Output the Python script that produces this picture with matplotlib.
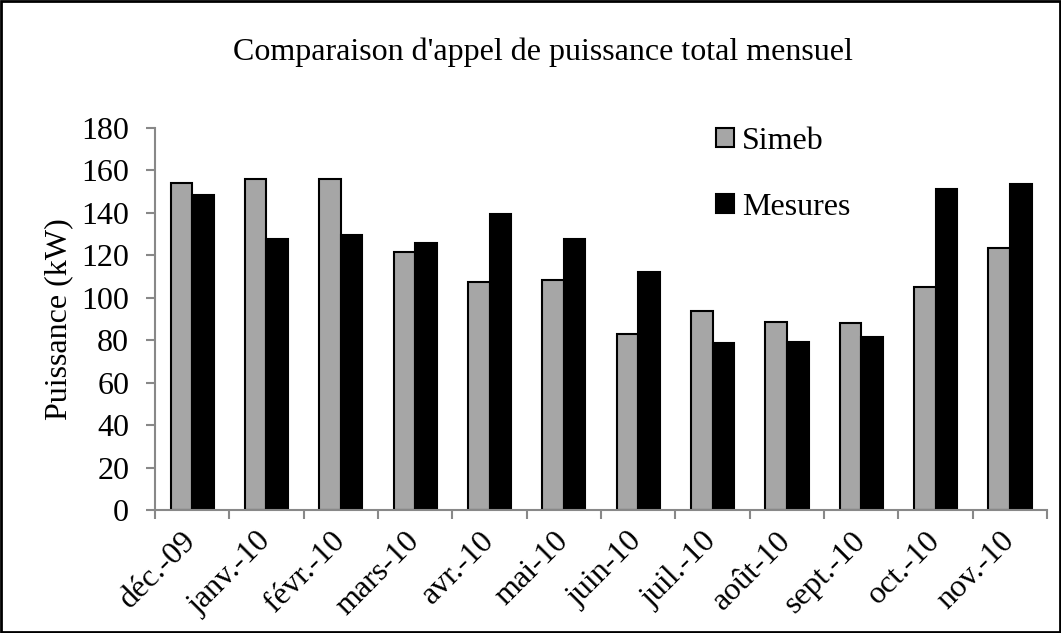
import numpy as np
import matplotlib
matplotlib.use("Agg")
import matplotlib.pyplot as plt
from matplotlib.patches import Rectangle

plt.rcParams['font.family'] = ['Liberation Serif', 'DejaVu Serif']

months = ['déc.-09', 'janv.-10', 'févr.-10', 'mars-10', 'avr.-10', 'mai-10',
          'juin-10', 'juil.-10', 'août-10', 'sept.-10', 'oct.-10', 'nov.-10']
simeb = [154.2, 155.8, 156.1, 121.7, 107.4, 108.4, 82.9, 93.9, 88.6, 88.3, 105.2, 123.6]
mesures = [148.4, 127.5, 129.6, 125.7, 139.5, 127.9, 112.3, 78.7, 79.0, 81.4, 151.4, 153.8]
yticks = list(range(0, 181, 20))

fs = 23

fig = plt.figure(figsize=(10.61, 6.33), dpi=100)
ax = fig.add_axes([0.146, 0.194, 0.841, 0.604])

x = np.arange(len(months))
w = 0.29
ax.bar(x - w / 2, simeb, w, color='#a6a6a6', edgecolor='black', linewidth=1.5, label='Simeb')
ax.bar(x + w / 2, mesures, w, color='black', edgecolor='black', linewidth=1.5, label='Mesures')

ax.set_xlim(-0.5, len(months) - 0.5)
ax.set_ylim(0, 180)
ax.set_yticks(yticks)
ax.set_xticks(x)
ax.set_xticklabels(months, rotation=45, ha='right', va='center', rotation_mode='anchor')
ax.set_xticks(np.arange(-0.5, len(months)), minor=True)
ax.tick_params(axis='x', which='major', length=0, pad=19, labelsize=fs)
ax.tick_params(axis='x', which='minor', length=6.5, width=1.5, color='#888888', direction='out')
ax.tick_params(axis='y', length=6.5, width=1.5, color='#888888', labelsize=fs, pad=12)

for s in ['top', 'right']:
    ax.spines[s].set_visible(False)
for s in ['left', 'bottom']:
    ax.spines[s].set_color('#888888')
    ax.spines[s].set_linewidth(1.5)

ax.set_ylabel('Puissance (kW)', fontsize=fs, labelpad=6)
fig.text(0.512, 0.918, "Comparaison d'appel de puissance total mensuel",
         ha='center', va='center', fontsize=fs)

ax.legend(loc='upper left', bbox_to_anchor=(0.648, 0.845), bbox_transform=fig.transFigure,
          frameon=False, fontsize=fs, handlelength=0.55, handleheight=0.55,
          handletextpad=0.25, labelspacing=1.15)

fig.patches.append(Rectangle((0.001, 0.001), 0.998, 0.998, transform=fig.transFigure,
                             fill=False, edgecolor='black', linewidth=2))

fig.savefig('out.png', dpi=100)
